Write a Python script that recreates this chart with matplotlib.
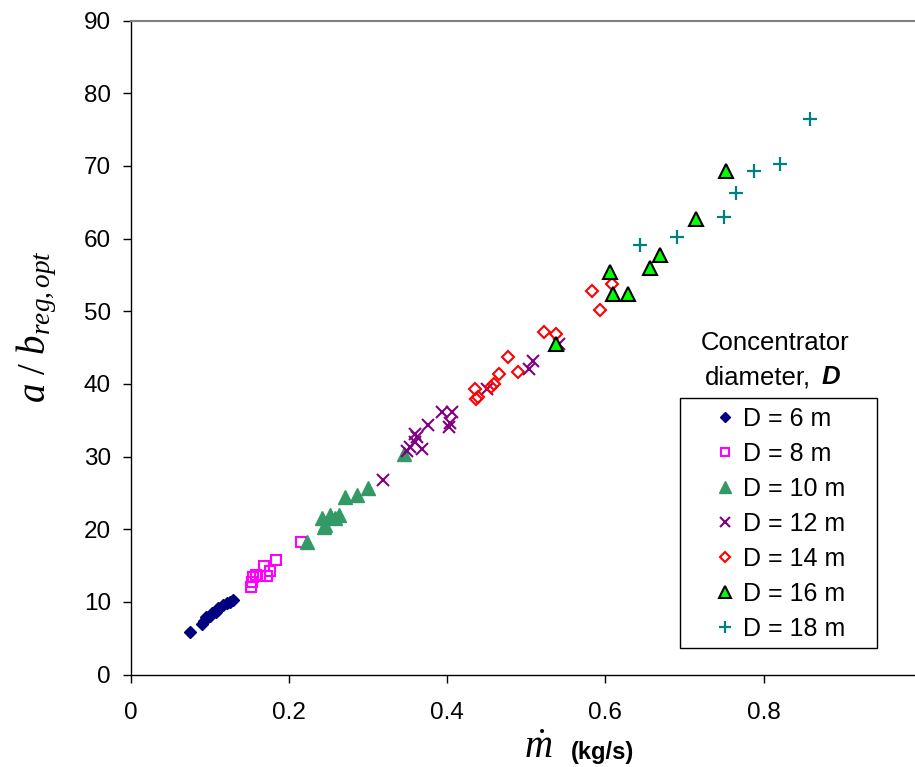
import matplotlib
matplotlib.use("Agg")
import matplotlib.pyplot as plt
from matplotlib.lines import Line2D
from matplotlib.patches import Rectangle

plt.rcParams['font.family'] = ['Liberation Sans', 'DejaVu Sans']
plt.rcParams['mathtext.fontset'] = 'custom'
plt.rcParams['mathtext.rm'] = 'Liberation Serif'
plt.rcParams['mathtext.it'] = 'Liberation Serif:italic'
plt.rcParams['mathtext.bf'] = 'Liberation Serif:bold'

# ---- data ----
d6_x = [0.075, 0.090, 0.093, 0.096, 0.100, 0.103, 0.108, 0.111, 0.117, 0.122, 0.126, 0.129]
d6_y = [5.8, 7.0, 7.4, 7.9, 8.0, 8.4, 8.6, 9.1, 9.5, 9.8, 10.0, 10.2]

d8_x = [0.152, 0.153, 0.155, 0.159, 0.164, 0.169, 0.173, 0.176, 0.184, 0.215]
d8_y = [12.0, 12.7, 13.4, 13.7, 13.5, 14.9, 13.6, 14.2, 15.8, 18.3]

d10_x = [0.223, 0.242, 0.244, 0.246, 0.252, 0.258, 0.263, 0.271, 0.286, 0.300, 0.346]
d10_y = [18.2, 21.6, 20.3, 20.6, 21.9, 21.5, 21.9, 24.4, 24.7, 25.6, 30.3]

d12_x = [0.319, 0.349, 0.353, 0.359, 0.360, 0.362, 0.368, 0.376, 0.393, 0.402, 0.404, 0.406,
         0.450, 0.503, 0.509, 0.542]
d12_y = [26.7, 30.8, 31.3, 33.1, 32.0, 32.7, 31.1, 34.3, 36.1, 34.0, 34.6, 36.1,
         39.3, 42.1, 43.2, 45.5]

d14_x = [0.435, 0.437, 0.439, 0.456, 0.459, 0.465, 0.477, 0.490, 0.522, 0.538, 0.583, 0.593, 0.608]
d14_y = [39.3, 37.9, 38.2, 39.5, 40.0, 41.4, 43.7, 41.6, 47.2, 46.9, 52.8, 50.1, 53.7]

d16_x = [0.538, 0.606, 0.610, 0.629, 0.656, 0.669, 0.714, 0.752]
d16_y = [45.5, 55.4, 52.4, 52.4, 56.0, 57.7, 62.7, 69.3]

d18_x = [0.644, 0.691, 0.750, 0.765, 0.788, 0.821, 0.859]
d18_y = [59.1, 60.2, 62.9, 66.2, 69.3, 70.2, 76.5]

labels = ["D = 6 m", "D = 8 m", "D = 10 m", "D = 12 m", "D = 14 m", "D = 16 m", "D = 18 m"]
x_ticks = [0, 0.2, 0.4, 0.6, 0.8]
x_tick_labels = ["0", "0.2", "0.4", "0.6", "0.8"]
y_ticks = [0, 10, 20, 30, 40, 50, 60, 70, 80, 90]

# ---- figure ----
W, H = 915, 767
fig = plt.figure(figsize=(W / 100, H / 100), dpi=100)
ax = fig.add_axes([130.5 / W, 92.5 / H, 791.5 / W, 654 / H])

styles = [
    dict(marker='D', ms=6.5, mfc='#000080', mec='#000080', mew=1),
    dict(marker='s', ms=7, mfc='none', mec='#FF00FF', mew=1.5),
    dict(marker='^', ms=9.5, mfc='#339966', mec='#339966', mew=1),
    dict(marker='x', ms=9, mfc='none', mec='#800080', mew=1.5),
    dict(marker='D', ms=6, mfc='none', mec='#FF0000', mew=1.5),
    dict(marker='^', ms=9.5, mfc='#00FF00', mec='#000000', mew=1.5),
    dict(marker='+', ms=10, mfc='none', mec='#008080', mew=1.6),
]
series = [(d6_x, d6_y), (d8_x, d8_y), (d10_x, d10_y), (d12_x, d12_y),
          (d14_x, d14_y), (d16_x, d16_y), (d18_x, d18_y)]

handles = []
for (xs, ys), st, lab in zip(series, styles, labels):
    ax.plot(xs, ys, linestyle='none', **st, label=lab)
    hs = dict(st)
    hs['ms'] = st['ms'] * 0.85
    handles.append(Line2D([], [], linestyle='none', label=lab, **hs))

ax.set_xlim(0, 1.0)
ax.set_ylim(0, 90)
ax.set_xticks(x_ticks)
ax.set_xticklabels(x_tick_labels)
ax.set_yticks(y_ticks)
ax.tick_params(axis='both', direction='out', length=6, width=1, labelsize=17.5, color='black')
ax.tick_params(axis='x', pad=14)
ax.tick_params(axis='y', pad=8)
for s in ['left', 'bottom']:
    ax.spines[s].set_color('black')
    ax.spines[s].set_linewidth(1)
ax.spines['top'].set_color('#808080')
ax.spines['top'].set_linewidth(1.5)
ax.spines['right'].set_visible(False)

# axis labels
fig.text(37 / W, 1 - 327 / H, r'$a\ /\ b_{reg,opt}$', rotation=90, fontsize=28,
         ha='center', va='center')
fig.text(538 / W, 1 - 748 / H, r'$\dot{m}$', fontsize=28, ha='center', va='center')
fig.text(571 / W, 1 - 753 / H, '(kg/s)', fontsize=17, fontweight='bold', ha='left', va='center')

# legend title (outside box)
fig.text(775 / W, 1 - 343 / H, 'Concentrator', fontsize=18.5, ha='center', va='center')
fig.text(705 / W, 1 - 377 / H, 'diameter,', fontsize=18.5, ha='left', va='center')
fig.text(822 / W, 1 - 377 / H, 'D', fontsize=18.5, ha='left', va='center',
         fontweight='bold', fontstyle='italic')

# legend box
fig.add_artist(Rectangle((680 / W, 1 - 648 / H), 197 / W, 250 / H,
                         transform=fig.transFigure, facecolor='white',
                         edgecolor='black', linewidth=1, zorder=3))

leg = fig.legend(handles=handles, loc='upper left',
                 bbox_to_anchor=(714 / W, 1 - 407 / H), bbox_transform=fig.transFigure,
                 borderaxespad=0, fontsize=18, frameon=False,
                 handlelength=0.9, handletextpad=0.25,
                 labelspacing=0.44, borderpad=0, numpoints=1)
leg.set_zorder(4)

fig.savefig('out.png', dpi=100)
